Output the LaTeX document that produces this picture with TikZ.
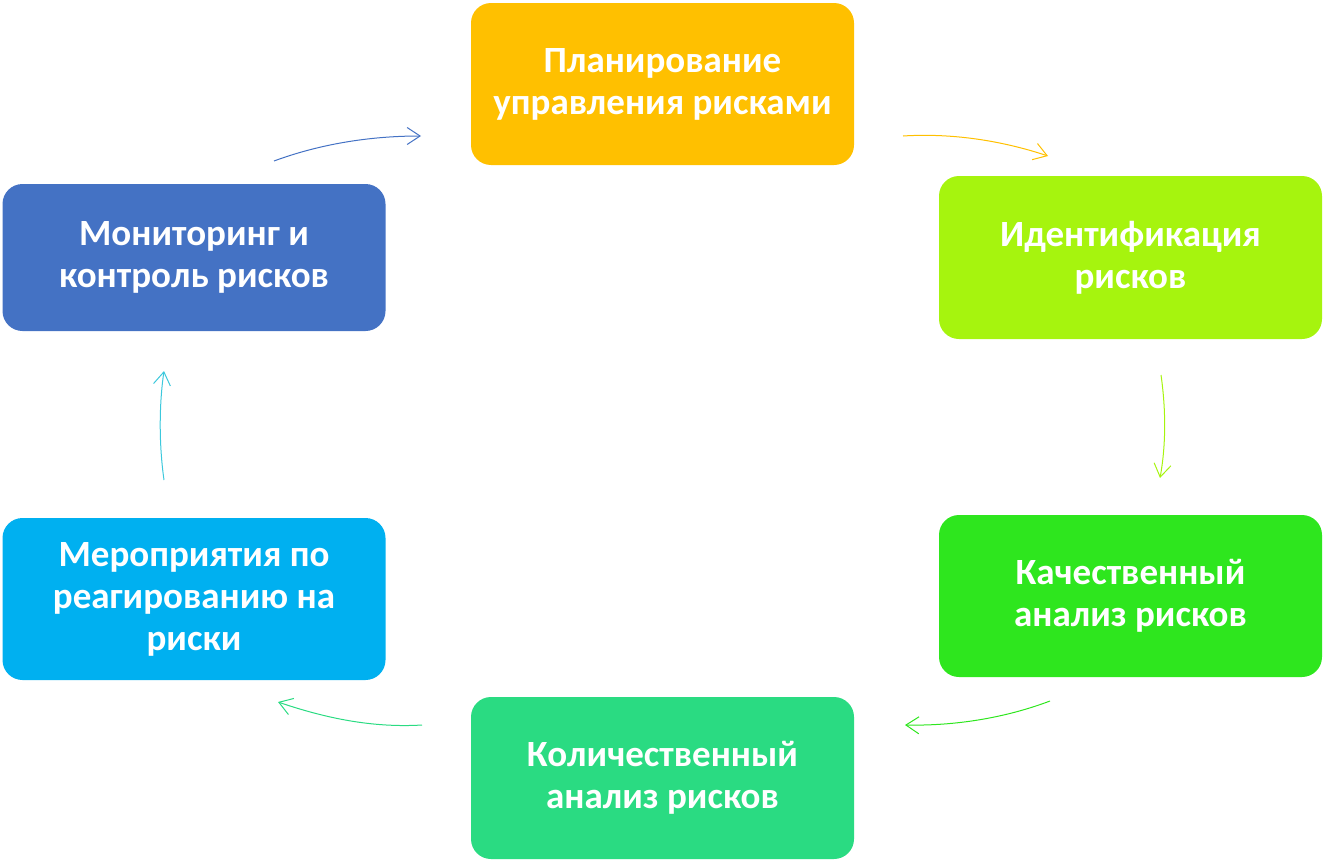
\documentclass[tikz,border=0pt]{standalone}
\usepackage{fontspec}
\setmainfont{Carlito}
\usetikzlibrary{arrows.meta}
\definecolor{cplan}{HTML}{FFC000}
\definecolor{cident}{HTML}{A6F40E}
\definecolor{ckach}{HTML}{2EE61E}
\definecolor{ckol}{HTML}{2ADB82}
\definecolor{cmer}{HTML}{00B0F0}
\definecolor{cmon}{HTML}{4472C4}
\definecolor{ccyan}{HTML}{3CC8DC}
\tikzset{
  stagebox/.style={rectangle, rounded corners=20pt, minimum width=383pt, minimum height=162pt,
    text=white, align=center, inner sep=0pt,
    font=\fontsize{37pt}{42pt}\selectfont\bfseries},
  cyc/.style={line width=1pt, -{Straight Barb[length=13pt,width=17pt]}}
}
\begin{document}
\begin{tikzpicture}[x=1pt,y=-1pt]
\useasboundingbox (0,0) rectangle (1325,862);
\node[stagebox, fill=cplan] (plan) at (662.5,84) {Планирование\\управления рисками};
\node[stagebox, fill=cident, minimum height=163pt] (ident) at (1130.5,257.5) {Идентификация\\рисков};
\node[stagebox, fill=ckach] (kach) at (1130.5,596) {Качественный\\анализ рисков};
\node[stagebox, fill=ckol] (kol) at (662.5,778) {Количественный\\анализ рисков};
\node[stagebox, fill=cmer] (mer) at (194,599) {Мероприятия по\\реагированию на\\риски};
\node[stagebox, fill=cmon, minimum height=147pt] (mon) at (194,257.5) {Мониторинг и\\контроль рисков};

\coordinate (a1s) at (274,161);  \coordinate (a1e) at (421,136);
\coordinate (a2s) at (903,136);  \coordinate (a2e) at (1048,156);
\coordinate (a3s) at (1161,375); \coordinate (a3e) at (1160,478);
\coordinate (a4s) at (1050,701); \coordinate (a4e) at (905,725);
\coordinate (a5s) at (422,725);  \coordinate (a5e) at (278,702);
\coordinate (a6s) at (164,480);  \coordinate (a6e) at (164,371);

\draw[cyc, cmon] (a1s) .. controls (320,144) and (370,136) .. (a1e);
\draw[cyc, cplan] (a2s) .. controls (950,133) and (1000,140) .. (a2e);
\draw[cyc, cident] (a3s) .. controls (1166,410) and (1166,445) .. (a3e);
\draw[cyc, ckach] (a4s) .. controls (1005,718) and (955,726) .. (a4e);
\draw[cyc, ckol] (a5s) .. controls (372,728) and (325,718) .. (a5e);
\draw[cyc, ccyan] (a6s) .. controls (159,445) and (159,405) .. (a6e);
\end{tikzpicture}
\end{document}
